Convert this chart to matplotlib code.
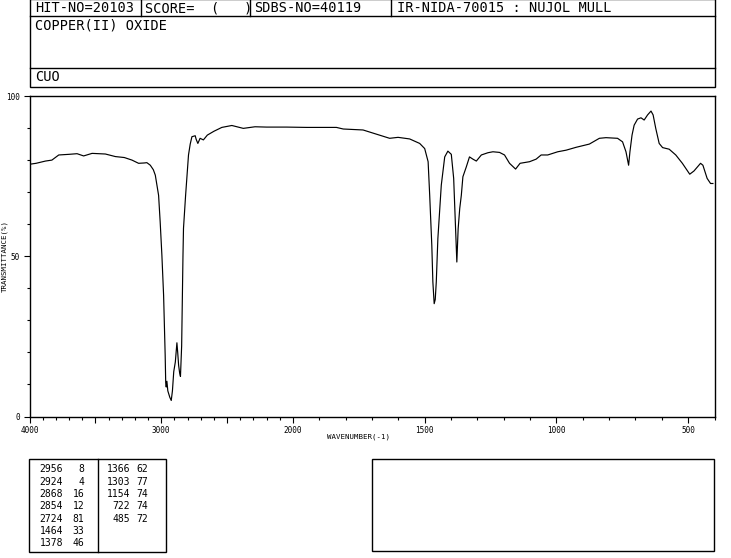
import numpy as np
import matplotlib
matplotlib.use("Agg")
import matplotlib.pyplot as plt
from matplotlib.patches import Rectangle
from matplotlib.ticker import FixedLocator

# ---------------- data ----------------
wavenumber = [4000, 3950, 3879, 3830, 3778, 3700, 3639, 3589, 3525, 3424, 3348, 3280,
              3222, 3172, 3130, 3109, 3083, 3060, 3045, 3020, 3008, 2995, 2982, 2970,
              2966, 2962, 2957, 2950, 2935, 2924, 2915, 2905, 2893, 2881, 2875, 2868,
              2860, 2854, 2845, 2835, 2831, 2815, 2793, 2780, 2767, 2742, 2735, 2722,
              2705, 2680, 2650, 2600, 2540, 2464, 2377, 2288, 2200, 2049, 1948, 1835,
              1809, 1734, 1683, 1633, 1601, 1557, 1519, 1500, 1487, 1481, 1473, 1469,
              1464, 1460, 1456, 1450, 1437, 1424, 1412, 1399, 1390, 1383, 1378, 1373,
              1367, 1361, 1355, 1342, 1330, 1317, 1304, 1285, 1260, 1241, 1216, 1197,
              1178, 1155, 1138, 1102, 1077, 1058, 1033, 995, 963, 925, 875, 837,
              812, 768, 749, 736, 726, 721, 713, 705, 692, 679, 667, 654,
              641, 633, 623, 610, 597, 572, 547, 522, 494, 478, 453, 444,
              428, 415, 406]
transmittance = [78.7, 79.0, 79.7, 80.0, 81.6, 81.8, 82.0, 81.3, 82.1, 81.9, 81.1, 80.8,
                 80.0, 79.0, 79.1, 79.2, 78.4, 77.0, 75.3, 69.0, 60.7, 50.3, 37.8, 19.0,
                 10.5, 9.2, 11.0, 8.0, 6.0, 5.0, 8.0, 14.0, 17.0, 23.0, 20.0, 16.0,
                 13.5, 12.5, 22.0, 50.0, 58.7, 69.0, 81.6, 85.0, 87.3, 87.6, 86.5, 85.2,
                 86.8, 86.3, 87.8, 89.0, 90.2, 90.8, 89.9, 90.4, 90.3, 90.3, 90.2, 90.2,
                 89.7, 89.4, 88.1, 86.8, 87.1, 86.6, 85.2, 83.6, 79.5, 69.0, 53.4, 42.0,
                 35.2, 36.5, 42.0, 55.5, 72.2, 81.0, 82.8, 81.8, 74.3, 58.6, 48.2, 58.6,
                 64.9, 69.0, 74.8, 77.9, 81.0, 80.3, 79.7, 81.6, 82.3, 82.6, 82.4, 81.6,
                 79.0, 77.2, 79.0, 79.5, 80.3, 81.6, 81.6, 82.6, 83.1, 84.0, 85.0, 86.8,
                 87.0, 86.8, 85.7, 82.6, 78.4, 82.6, 87.8, 90.9, 92.8, 93.2, 92.5, 94.1,
                 95.3, 94.1, 89.9, 85.2, 83.9, 83.4, 81.6, 79.0, 75.6, 76.6, 79.0, 78.4,
                 74.3, 72.7, 72.7]

header_cells = ["HIT-NO=20103", "SCORE=  (   )", "SDBS-NO=40119", "IR-NIDA-70015 : NUJOL MULL"]
compound_name = "COPPER(II) OXIDE"
formula = "CUO"

peak_wn_left = [2956, 2924, 2868, 2854, 2724, 1464, 1378]
peak_t_left = [8, 4, 16, 12, 81, 33, 46]
peak_wn_right = [1366, 1303, 1154, 722, 485]
peak_t_right = [62, 77, 74, 74, 72]

x_tick_labels = {4000: "4000", 3000: "3000", 2000: "2000", 1500: "1500", 1000: "1000", 500: "500"}
y_tick_labels = {0: "0", 50: "50", 100: "100"}

MONO = "DejaVu Sans Mono"
W, H = 731, 558

# ---------------- figure ----------------
fig = plt.figure(figsize=(W / 100, H / 100), dpi=100)
fig.patch.set_facecolor("white")

# overlay in pixel coordinates for the boxes and texts
ov = fig.add_axes([0, 0, 1, 1])
ov.set_xlim(0, W)
ov.set_ylim(H, 0)
ov.axis("off")

lw_box = 1.0
# header box
ov.add_patch(Rectangle((29.5, -1), 685.5, 87.5, fill=False, lw=lw_box, ec="black"))
ov.plot([29.5, 715], [16, 16], color="black", lw=lw_box)
ov.plot([29.5, 715], [68.3, 68.3], color="black", lw=lw_box)
for xd in [140.5, 250, 390.5]:
    ov.plot([xd, xd], [-1, 16], color="black", lw=lw_box)
for xt, txt in zip([35, 145, 254, 397], header_cells):
    ov.text(xt, 8.5, txt, family=MONO, fontsize=9.8, va="center", ha="left")
ov.text(35, 25.5, compound_name, family=MONO, fontsize=9.8, va="center", ha="left")
ov.text(35, 77.3, formula, family=MONO, fontsize=9.8, va="center", ha="left")

# peak table
ov.add_patch(Rectangle((29.3, 459.3), 136.4, 92.4, fill=False, lw=lw_box, ec="black"))
ov.plot([98.3, 98.3], [459.3, 551.7], color="black", lw=lw_box)
row_y0, row_dy = 469.3, 12.35
for i, (wn, t) in enumerate(zip(peak_wn_left, peak_t_left)):
    y = row_y0 + i * row_dy
    ov.text(63, y, str(wn), family=MONO, fontsize=7, ha="right", va="center")
    ov.text(84.5, y, str(t), family=MONO, fontsize=7, ha="right", va="center")
for i, (wn, t) in enumerate(zip(peak_wn_right, peak_t_right)):
    y = row_y0 + i * row_dy
    ov.text(130, y, str(wn), family=MONO, fontsize=7, ha="right", va="center")
    ov.text(148, y, str(t), family=MONO, fontsize=7, ha="right", va="center")

# empty box
ov.add_patch(Rectangle((372.3, 459.3), 341.7, 91.7, fill=False, lw=lw_box, ec="black"))

# ---------------- spectrum axes ----------------
left, right, top, bottom = 29.5, 714.5, 96, 416.5
ax = fig.add_axes([left / W, (H - bottom) / H, (right - left) / W, (bottom - top) / H])


def fwd(w):
    w = np.asarray(w, dtype=float)
    return np.where(w <= 2000, w - 400.0, 1600.0 + (w - 2000.0) * 0.5)


def inv(u):
    u = np.asarray(u, dtype=float)
    return np.where(u <= 1600, u + 400.0, 2000.0 + (u - 1600.0) * 2.0)


ax.set_xscale("function", functions=(fwd, inv))
ax.plot(wavenumber, transmittance, color="black", lw=0.85)
ax.set_xlim(4000, 400)
ax.set_ylim(0, 100)

major_x = [4000, 3500, 3000, 2500, 2000, 1500, 1000, 500]
minor_x = [w for w in range(4000, 399, -100) if w not in major_x]
ax.xaxis.set_major_locator(FixedLocator(major_x))
ax.xaxis.set_minor_locator(FixedLocator(minor_x))
ax.set_xticklabels([x_tick_labels.get(w, "") for w in major_x])

ax.yaxis.set_major_locator(FixedLocator(list(y_tick_labels.keys())))
ax.yaxis.set_minor_locator(FixedLocator([10, 20, 30, 40, 60, 70, 80, 90]))
ax.set_yticklabels(list(y_tick_labels.values()))

ax.tick_params(axis="both", which="major", direction="out", length=4, width=0.8,
               labelsize=5.5, pad=3)
ax.tick_params(axis="both", which="minor", direction="out", length=2.2, width=0.8)
for lab in ax.get_xticklabels() + ax.get_yticklabels():
    lab.set_family(MONO)
for s in ax.spines.values():
    s.set_linewidth(1.0)

ov.text(358.7, 437, "WAVENUMBER(-1)", family=MONO, fontsize=5.3, ha="center", va="center")
ov.text(4.5, 256, "TRANSMITTANCE(%)", family=MONO, fontsize=5.3, ha="center", va="center",
        rotation=90)

fig.savefig("out.png", dpi=100, facecolor="white")
